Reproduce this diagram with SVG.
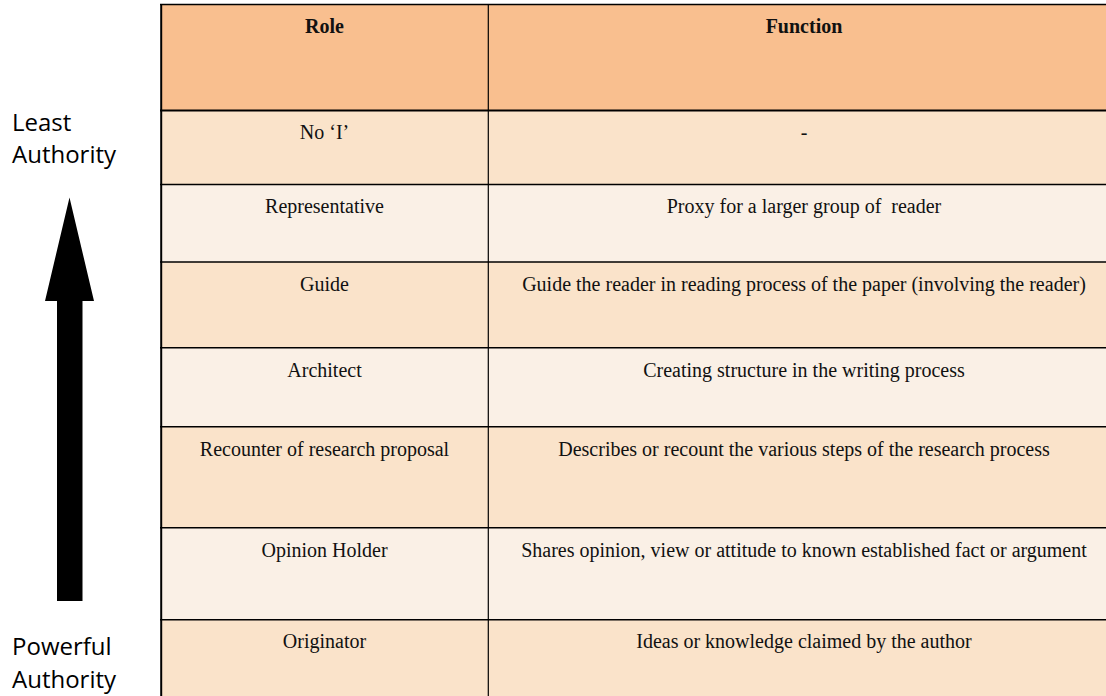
<svg xmlns="http://www.w3.org/2000/svg" width="1106" height="696" viewBox="0 0 1106 696">
<style>
.hdr{fill:#F9BF8F}
.rA{fill:#FAE3CA}
.rB{fill:#FAF0E6}
.ln{stroke:#000;stroke-width:1.6;fill:none}
.t{font-family:"Liberation Serif","Times New Roman",serif;font-size:20px;fill:#111;text-anchor:middle}
.b{font-weight:bold}
.lab{font-family:"Open Sans","Noto Sans",sans-serif;font-size:24px;fill:#000}
</style>
<rect width="1106" height="696" fill="#fff"/>
<g id="table">
<rect class="hdr" x="161" y="5" width="945" height="106"/>
<rect class="rA" x="161" y="111" width="945" height="74"/>
<rect class="rB" x="161" y="185" width="945" height="77"/>
<rect class="rA" x="161" y="262" width="945" height="86"/>
<rect class="rB" x="161" y="348" width="945" height="79"/>
<rect class="rA" x="161" y="427" width="945" height="101"/>
<rect class="rB" x="161" y="528" width="945" height="92"/>
<rect class="rA" x="161" y="620" width="945" height="76"/>
<g id="grid">
<line class="ln" x1="160" y1="4.5" x2="1106" y2="4.5"/>
<line class="ln" x1="160" y1="110.5" x2="1106" y2="110.5" style="stroke-width:2"/>
<line class="ln" x1="160" y1="184.5" x2="1106" y2="184.5"/>
<line class="ln" x1="160" y1="262" x2="1106" y2="262"/>
<line class="ln" x1="160" y1="347.7" x2="1106" y2="347.7"/>
<line class="ln" x1="160" y1="426.7" x2="1106" y2="426.7"/>
<line class="ln" x1="160" y1="527.7" x2="1106" y2="527.7"/>
<line class="ln" x1="160" y1="619.7" x2="1106" y2="619.7"/>
<line class="ln" x1="161.2" y1="4" x2="161.2" y2="696" style="stroke-width:2"/>
<line class="ln" x1="488.3" y1="4" x2="488.3" y2="696" style="stroke-width:1.2"/>
</g>
<g id="header">
<text class="t b" x="324.5" y="33">Role</text>
<text class="t b" x="804" y="33">Function</text>
</g>
<g id="row-no-i">
<text class="t" x="324.5" y="139.3">No ‘I’</text>
<text class="t" x="804" y="139.3">-</text>
</g>
<g id="row-representative">
<text class="t" x="324.5" y="212.5">Representative</text>
<text class="t" x="804" y="212.5" xml:space="preserve">Proxy for a larger group of  reader</text>
</g>
<g id="row-guide">
<text class="t" x="324.5" y="290.5">Guide</text>
<text class="t" x="804" y="290.5">Guide the reader in reading process of the paper (involving the reader)</text>
</g>
<g id="row-architect">
<text class="t" x="324.5" y="376.5">Architect</text>
<text class="t" x="804" y="376.5">Creating structure in the writing process</text>
</g>
<g id="row-recounter">
<text class="t" x="324.5" y="456">Recounter of research proposal</text>
<text class="t" x="804" y="456">Describes or recount the various steps of the research process</text>
</g>
<g id="row-opinion">
<text class="t" x="324.5" y="556.5">Opinion Holder</text>
<text class="t" x="804" y="556.5">Shares opinion, view or attitude to known established fact or argument</text>
</g>
<g id="row-originator">
<text class="t" x="324.5" y="648">Originator</text>
<text class="t" x="804" y="648">Ideas or knowledge claimed by the author</text>
</g>
</g>
<g id="axis">
<text class="lab" x="12" y="131">Least</text>
<text class="lab" x="12" y="163">Authority</text>
<text class="lab" x="12" y="655">Powerful</text>
<text class="lab" x="12" y="688">Authority</text>
</g>
<g id="connectors">
<polygon points="69.5,197.5 94,301 82.5,301 82.5,601 57,601 57,301 45,301" fill="#000"/>
</g>
</svg>
